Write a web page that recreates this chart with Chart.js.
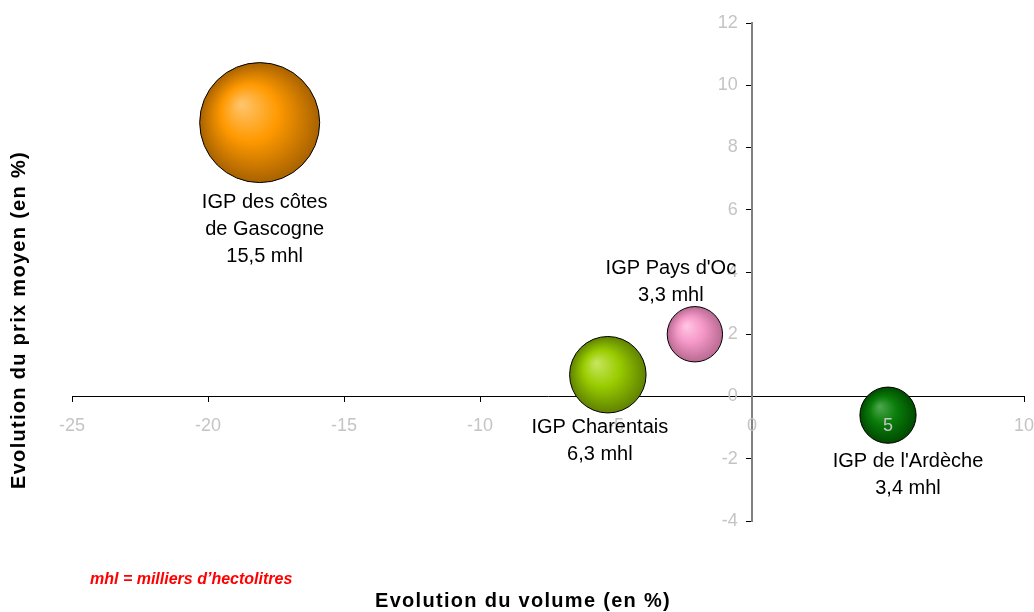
<!DOCTYPE html>
<html lang="fr">
<head>
  <meta charset="UTF-8" />
  <title>Evolution prix / volume des IGP</title>
  <script src="https://cdn.jsdelivr.net/npm/chart.js"></script>
  <style>
    html, body { margin: 0; padding: 0; background: #fff; }
    #wrap { width: 1034px; height: 612px; position: relative; }
  </style>
</head>
<body>
  <div id="wrap"><canvas id="bubbleChart"></canvas></div>

  <script>
    // --- data ---
    const names = [["IGP des côtes", "de Gascogne"], ["IGP Pays d'Oc"], ["IGP Charentais"], ["IGP de l'Ardèche"]];
    const volumeEvol = [-18.1, -2.1, -5.3, 5.0];   // evolution du volume (en %)
    const priceEvol = [8.8, 2.0, 0.7, -0.6];        // evolution du prix moyen (en %)
    const volumes = [15.5, 3.3, 6.3, 3.4];          // milliers d'hectolitres
    const volumeLabels = ["15,5 mhl", "3,3 mhl", "6,3 mhl", "3,4 mhl"];
    const xTicks = [-25, -20, -15, -10, -5, 0, 5, 10];
    const yTicks = [-4, -2, 0, 2, 4, 6, 8, 10, 12];

    // bubble colours: [highlight, base, edge]
    const bubbleColors = [
      ["#ffc266", "#ff9900", "#a86200"],
      ["#ffc4e2", "#f598c8", "#b86a92"],
      ["#c4e45a", "#99cc00", "#5f8200"],
      ["#4aa44a", "#0a7d0a", "#004a00"]
    ];
    // label placement, pixels from bubble centre (first line)
    const labelOffsets = [[5, 80], [-24, -66], [-8, 53], [20, 46]];

    const FONT = "'Liberation Sans', Arial, sans-serif";
    const sizeScale = 15.24; // radius = sizeScale * sqrt(volume), area ~ volume
    const yLabelShift = -0.52; // y tick labels sit a little left of the axis (x units)

    const points = volumeEvol.map((v, i) => ({ x: v, y: priceEvol[i], r: sizeScale * Math.sqrt(volumes[i]) }));

    function bubbleFill(ctx) {
      if (ctx.type !== 'data') return '#999';
      const chart = ctx.chart;
      const p = ctx.raw;
      const c = bubbleColors[ctx.dataIndex];
      if (!chart.scales.x || !chart.scales.y) return c[1];
      const x = chart.scales.x.getPixelForValue(p.x);
      const y = chart.scales.y.getPixelForValue(p.y);
      if (!isFinite(x) || !isFinite(y)) return c[1];
      const g = chart.ctx.createRadialGradient(x - p.r * 0.3, y - p.r * 0.3, p.r * 0.04, x, y, p.r);
      g.addColorStop(0, c[0]);
      g.addColorStop(0.45, c[1]);
      g.addColorStop(1, c[2]);
      return g;
    }

    const textPlugin = {
      id: 'texts',
      afterDraw(chart) {
        const ctx = chart.ctx;
        const { x, y } = chart.scales;
        ctx.save();
        // bubble labels
        ctx.fillStyle = '#000';
        ctx.font = '20px ' + FONT;
        ctx.textAlign = 'center';
        ctx.textBaseline = 'middle';
        points.forEach((p, i) => {
          const cx = x.getPixelForValue(p.x) + labelOffsets[i][0];
          const cy = y.getPixelForValue(p.y) + labelOffsets[i][1];
          names[i].concat(volumeLabels[i]).forEach((line, k) => {
            ctx.fillText(line, cx, cy + k * 27);
          });
        });

        // axis titles
        ctx.font = 'bold 20px ' + FONT;
        ctx.letterSpacing = '1.3px';
        ctx.textBaseline = 'alphabetic';
        ctx.fillText('Evolution du volume (en %)', 523, 607);
        ctx.save();
        ctx.translate(25, 320);
        ctx.rotate(-Math.PI / 2);
        ctx.fillText('Evolution du prix moyen (en %)', 0, 0);
        ctx.restore();

        // note
        ctx.letterSpacing = '0px';
        ctx.fillStyle = '#ff0000';
        ctx.font = 'italic bold 16px ' + FONT;
        ctx.textAlign = 'left';
        ctx.fillText('mhl = milliers d\u2019hectolitres', 90, 584);
        ctx.restore();
      }
    };

    const tickFont = { family: FONT, size: 18 };
    // axes sit inside the plot, so they take no room in the layout
    const flatX = s => { s.height = 0; s.paddingLeft = 0; s.paddingRight = 0; };
    const flatY = s => { s.width = 0; s.paddingTop = 0; s.paddingBottom = 0; };
    const setXTicks = s => { s.ticks = xTicks.map(v => ({ value: v })); };
    const setYTicks = s => { s.ticks = yTicks.map(v => ({ value: v })); };

    new Chart(document.getElementById('bubbleChart'), {
      type: 'bubble',
      data: {
        datasets: [{
          data: points,
          backgroundColor: bubbleFill,
          borderColor: '#000',
          borderWidth: 1,
          hoverBorderWidth: 1
        }]
      },
      options: {
        responsive: true,
        maintainAspectRatio: false,
        animation: false,
        layout: { autoPadding: false, padding: { left: 72, right: 10, top: 23, bottom: 91 } },
        plugins: { legend: { display: false }, tooltip: { enabled: false } },
        scales: {
          x: {
            type: 'linear',
            min: xTicks[0],
            max: xTicks[xTicks.length - 1],
            position: { y: 0 },
            afterBuildTicks: setXTicks,
            afterFit: flatX,
            border: { color: '#000', width: 1 },
            grid: { drawOnChartArea: false, color: '#000', tickLength: 5 },
            ticks: { display: false }
          },
          // x tick labels drawn on top of the bubbles
          xLabels: {
            type: 'linear',
            axis: 'x',
            min: xTicks[0],
            max: xTicks[xTicks.length - 1],
            position: { y: 0 },
            z: 1,
            afterBuildTicks: setXTicks,
            afterFit: flatX,
            border: { display: false },
            grid: { display: false, tickLength: 5 },
            ticks: { color: '#c4c4c4', font: tickFont, padding: 14, maxRotation: 0, z: 1 }
          },
          y: {
            type: 'linear',
            min: yTicks[0],
            max: yTicks[yTicks.length - 1],
            position: { x: 0 },
            afterBuildTicks: setYTicks,
            afterFit: flatY,
            border: { color: '#808080', width: 2 },
            grid: { drawOnChartArea: false, color: '#000', tickLength: 5 },
            ticks: { display: false }
          },
          yLabels: {
            type: 'linear',
            axis: 'y',
            min: yTicks[0],
            max: yTicks[yTicks.length - 1],
            position: { x: yLabelShift },
            afterBuildTicks: setYTicks,
            afterFit: flatY,
            border: { display: false },
            grid: { display: false },
            ticks: { color: '#c4c4c4', font: tickFont }
          }
        }
      },
      plugins: [textPlugin]
    });
  </script>
</body>
</html>
